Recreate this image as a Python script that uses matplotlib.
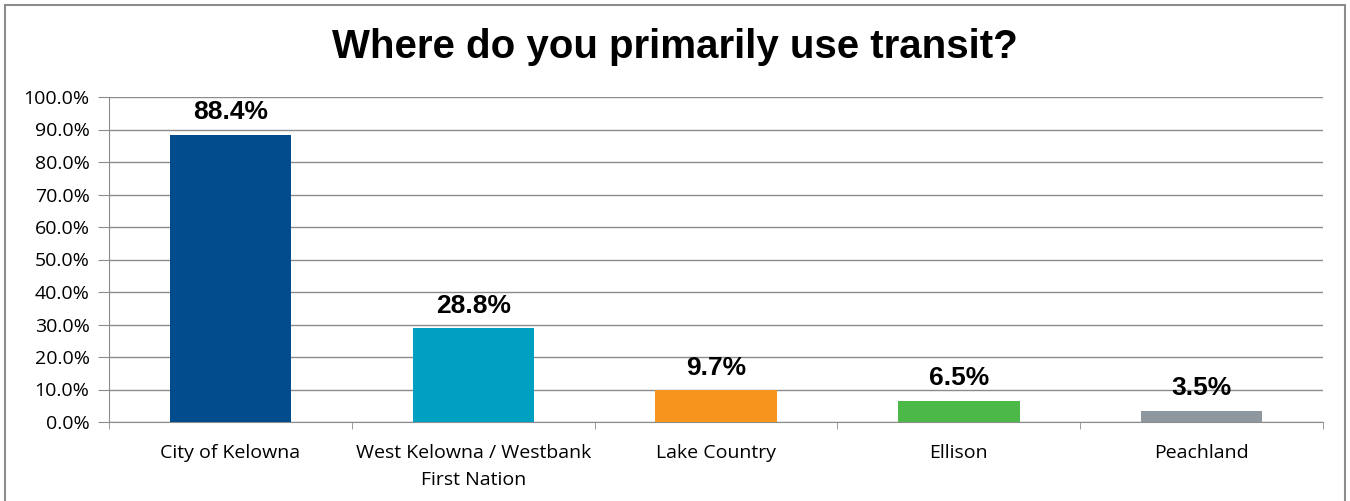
import matplotlib.pyplot as plt
from matplotlib.patches import Rectangle

categories = ["City of Kelowna", "West Kelowna / Westbank\nFirst Nation",
              "Lake Country", "Ellison", "Peachland"]
values = [88.4, 28.8, 9.7, 6.5, 3.5]
colors = ["#004C8C", "#00A0C3", "#F7941E", "#4CB848", "#8E969E"]

fig = plt.figure(figsize=(13.5, 5.01), dpi=100)
ax = fig.add_axes([109 / 1350, 1 - 422 / 501, (1323 - 109) / 1350, (422 - 97) / 501])

x = range(len(categories))
ax.bar(x, values, width=0.5, color=colors, zorder=3)
for xi, v in zip(x, values):
    ax.text(xi, v + 3.2, f"{v:.1f}%", ha="center", va="bottom",
            fontsize=19, fontweight="bold", family="Liberation Sans", zorder=4)

ax.set_xlim(-0.5, len(categories) - 0.5)
ax.set_ylim(0, 100)
ax.set_yticks(range(0, 101, 10))
ax.set_yticklabels([f"{t:.1f}%" for t in range(0, 101, 10)],
                   fontsize=14, family="Open Sans")
ax.yaxis.grid(True, color="#8c8c8c", linewidth=1, zorder=0)

# category labels sit under each bar, ticks sit between categories
ax.set_xticks(list(x))
ax.set_xticklabels(categories, fontsize=14, family="Open Sans", linespacing=1.6)
ax.tick_params(axis="x", length=0, pad=16)
ax.set_xticks([i + 0.5 for i in range(-1, len(categories))], minor=True)
ax.tick_params(axis="x", which="minor", length=5, color="#8c8c8c", direction="out")
ax.tick_params(axis="y", length=8, color="#8c8c8c", pad=6)

for side in ["top", "right"]:
    ax.spines[side].set_visible(False)
for side in ["left", "bottom"]:
    ax.spines[side].set_color("#8c8c8c")

fig.text(675 / 1350, 1 - 47 / 501, "Where do you primarily use transit?",
         ha="center", va="center", fontsize=29, fontweight="bold",
         family="Liberation Sans")

fig.patches.append(Rectangle((5 / 1350, -0.05), 1340 / 1350, 1 - 5 / 501 + 0.05,
                             transform=fig.transFigure, fill=False,
                             edgecolor="#8c8c8c", linewidth=1.5))

fig.savefig("out.png", dpi=100)
